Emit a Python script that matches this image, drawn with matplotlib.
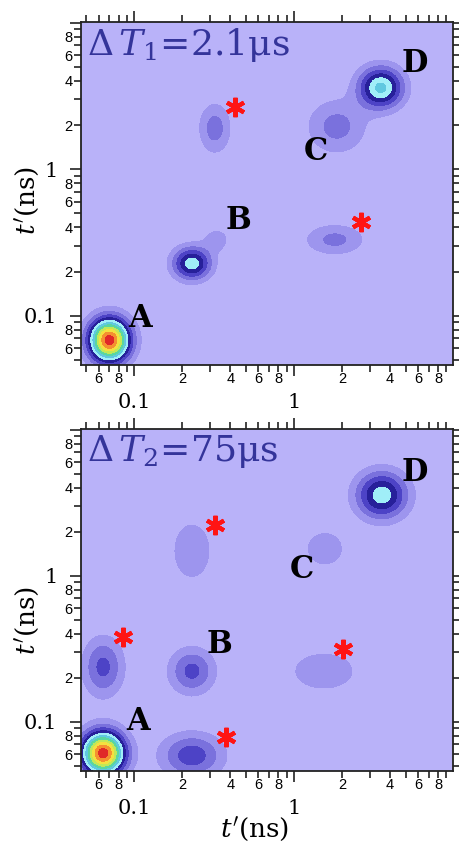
import numpy as np
import matplotlib
matplotlib.use('Agg')
import matplotlib.pyplot as plt
from matplotlib.colors import ListedColormap, BoundaryNorm
from matplotlib.ticker import FixedLocator, FixedFormatter

plt.rcParams['mathtext.fontset'] = 'dejavuserif'

# ---------------- data ----------------
# peaks of the 2D spectrum: centre (ns), amplitude, width (decades)
top_peak_x = [0.070, 0.23, 0.33, 0.32, 1.85, 3.5, 1.80]
top_peak_y = [0.068, 0.227, 0.33, 1.9, 1.95, 3.6, 0.33]
top_peak_amp = [1.15, 0.56, 0.15, 0.25, 0.24, 0.63, 0.23]
top_peak_wx = [0.09, 0.084, 0.06, 0.07, 0.13, 0.098, 0.131]
top_peak_wy = [0.105, 0.078, 0.06, 0.12, 0.13, 0.098, 0.074]

bot_peak_x = [0.064, 0.064, 0.23, 0.23, 0.23, 1.56, 3.55, 1.54]
bot_peak_y = [0.061, 0.237, 0.222, 0.0587, 1.48, 1.53, 3.56, 0.222]
bot_peak_amp = [1.15, 0.33, 0.33, 0.36, 0.17, 0.17, 0.56, 0.17]
bot_peak_wx = [0.095, 0.089, 0.10, 0.137, 0.103, 0.10, 0.113, 0.17]
bot_peak_wy = [0.105, 0.141, 0.11, 0.106, 0.17, 0.10, 0.113, 0.112]

top_star_x = [0.43, 2.62]
top_star_y = [2.66, 0.434]
bot_star_x = [0.085, 0.32, 0.376, 2.02]
bot_star_y = [0.379, 2.22, 0.079, 0.314]

peak_names = ['A', 'B', 'C', 'D']
top_name_x = [0.109, 0.447, 1.37, 5.7]
top_name_y = [0.095, 0.447, 1.31, 5.3]
bot_name_x = [0.106, 0.34, 1.12, 5.7]
bot_name_y = [0.100, 0.34, 1.10, 5.1]

titles = [r'$\Delta\,T_{1}$=2.1μs', r'$\Delta\,T_{2}$=75μs']

major_ticks = [0.1, 1, 10]
major_labels = ['0.1', '1', '']
minor_ticks = [0.05, 0.06, 0.07, 0.08, 0.09,
               0.2, 0.3, 0.4, 0.5, 0.6, 0.7, 0.8, 0.9,
               2, 3, 4, 5, 6, 7, 8, 9]
minor_labels = ['', '6', '', '8', '',
                '2', '', '4', '', '6', '', '8', '',
                '2', '', '4', '', '6', '', '8', '']

# ---------------- style ----------------
levels = [-1, 0.1, 0.2, 0.3, 0.4, 0.5, 0.6, 0.7, 0.8, 0.9, 1.0, 1.1, 5]
colors = ['#b9b2f9', '#9d95ee', '#7a71dd', '#4d43c6', '#27209a',
          '#a0eef8', '#60c8e0', '#5ad6a0', '#c0e858', '#f4e040',
          '#f49030', '#e02828']
cmap = ListedColormap(colors)
norm = BoundaryNorm(levels, cmap.N)

XLIM = (0.0465, 9.9)
YLIM = (0.046, 10.1)

fig = plt.figure(figsize=(4.6, 8.47), dpi=100)
W, H = 460.0, 847.0
ax_top = fig.add_axes([81 / W, 1 - 365 / H, 372 / W, 343 / H])
ax_bot = fig.add_axes([81 / W, 1 - 771 / H, 372 / W, 342 / H])

lx = np.linspace(np.log10(XLIM[0]), np.log10(XLIM[1]), 300)
ly = np.linspace(np.log10(YLIM[0]), np.log10(YLIM[1]), 300)
LX, LY = np.meshgrid(lx, ly)


def spectrum(px, py, amp, wx, wy):
    Z = np.zeros_like(LX)
    for x0, y0, a, sx, sy in zip(px, py, amp, wx, wy):
        Z += a * np.exp(-((LX - np.log10(x0)) ** 2 / (2 * sx ** 2)
                          + (LY - np.log10(y0)) ** 2 / (2 * sy ** 2)))
    return Z


panels = [
    (ax_top, top_peak_x, top_peak_y, top_peak_amp, top_peak_wx, top_peak_wy,
     top_star_x, top_star_y, top_name_x, top_name_y, titles[0]),
    (ax_bot, bot_peak_x, bot_peak_y, bot_peak_amp, bot_peak_wx, bot_peak_wy,
     bot_star_x, bot_star_y, bot_name_x, bot_name_y, titles[1]),
]

for (ax, px, py, pa, wx, wy, sx, sy, nx, ny, title) in panels:
    Z = spectrum(px, py, pa, wx, wy)
    ax.contourf(10 ** LX, 10 ** LY, Z, levels=levels, cmap=cmap, norm=norm)
    ax.set_xscale('log')
    ax.set_yscale('log')
    ax.set_xlim(*XLIM)
    ax.set_ylim(*YLIM)

    ax.plot(sx, sy, linestyle='none', marker=(6, 2, 0), markersize=14,
            markeredgewidth=3.0, color='#ff1414')
    for name, x, y in zip(peak_names, nx, ny):
        ax.text(x, y, name, fontsize=22, fontweight='bold', family='DejaVu Serif',
                ha='center', va='center', color='black')
    ax.text(0.016, 0.933, title, transform=ax.transAxes, fontsize=26,
            family='DejaVu Serif', color='#34349a', ha='left', va='center')

    for axis in (ax.xaxis, ax.yaxis):
        axis.set_major_locator(FixedLocator(major_ticks))
        axis.set_major_formatter(FixedFormatter(major_labels))
        axis.set_minor_locator(FixedLocator(minor_ticks))
        axis.set_minor_formatter(FixedFormatter(minor_labels))

    ax.tick_params(which='both', direction='out', top=True, right=True,
                   labeltop=False, labelright=False, color='#222222', width=1.2)
    ax.tick_params(which='major', length=8)
    ax.tick_params(which='minor', length=5, labelsize=10.5)
    ax.tick_params(axis='x', which='minor', pad=0)
    ax.tick_params(axis='y', which='minor', pad=1)
    ax.tick_params(axis='x', which='major', pad=12, labelsize=15)
    ax.tick_params(axis='y', which='major', pad=9, labelsize=15)
    for lab in ax.get_xticklabels(minor=True) + ax.get_yticklabels(minor=True):
        lab.set_family('Liberation Sans')
    for lab in ax.get_xticklabels() + ax.get_yticklabels():
        lab.set_family('DejaVu Serif')
    for sp in ax.spines.values():
        sp.set_linewidth(1.3)
        sp.set_color('#222222')

fig.text(28 / W, 1 - 200 / H, r"$t'$(ns)", rotation=90, fontsize=19,
         family='DejaVu Serif', ha='center', va='center')
fig.text(28 / W, 1 - 620 / H, r"$t'$(ns)", rotation=90, fontsize=19,
         family='DejaVu Serif', ha='center', va='center')
fig.text(255 / W, 1 - 830 / H, r"$t'$(ns)", fontsize=19,
         family='DejaVu Serif', ha='center', va='center')

fig.savefig('out.png', dpi=100)
